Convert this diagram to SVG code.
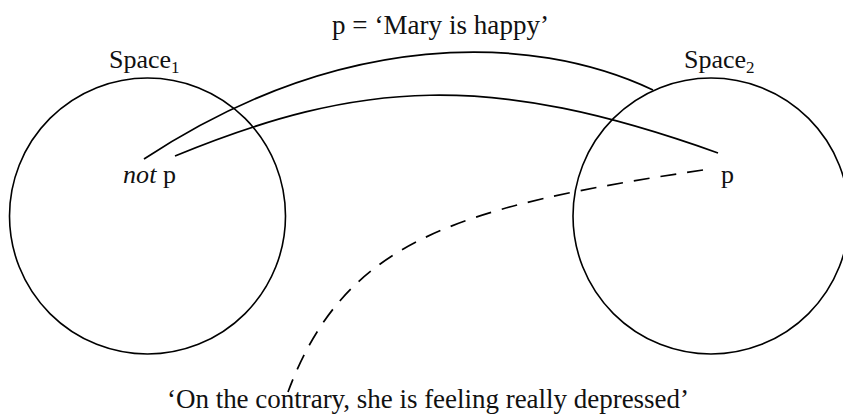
<svg xmlns="http://www.w3.org/2000/svg" width="843" height="415" viewBox="0 0 843 415">
<style>
.c{fill:none;stroke:#000;stroke-width:1.6}
.l{fill:none;stroke:#000;stroke-width:1.7}
.d{fill:none;stroke:#000;stroke-width:1.7;stroke-dasharray:16 11}
text{font-family:"Liberation Serif",serif;fill:#111}
.sub{font-size:17px}
</style>
<rect width="843" height="415" fill="#fff"/>
<g id="space1"><circle class="c" cx="147.5" cy="216" r="138"/><text x="109" y="68" font-size="26">Space<tspan class="sub" dy="5">1</tspan></text></g>
<g id="space2"><circle class="c" cx="711" cy="216" r="138"/><text x="684" y="68" font-size="26">Space<tspan class="sub" dy="5">2</tspan></text></g>
<g id="notp"><text x="123" y="183" font-size="26" textLength="53" lengthAdjust="spacing"><tspan font-style="italic">not</tspan> p</text></g>
<g id="p"><text x="721" y="183" font-size="26">p</text></g>
<g id="title"><text x="332" y="34" font-size="27" textLength="217" lengthAdjust="spacing">p = ‘Mary is happy’</text></g>
<g id="caption"><text x="167" y="408" font-size="27" textLength="522" lengthAdjust="spacing">‘On the contrary, she is feeling really depressed’</text></g>
<g id="connectors">
<path class="l" d="M144 159 C340 30 530 32 653 90"/>
<path class="l" d="M175 156 C360 80 489 71 718 153"/>
<path class="d" d="M703 170 C453 207 344 242 288 392"/>
</g>
</svg>
